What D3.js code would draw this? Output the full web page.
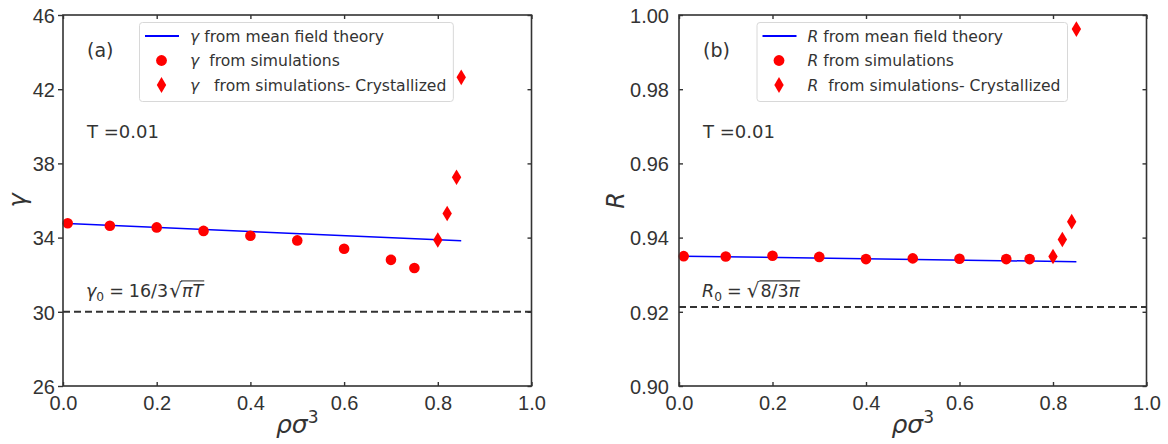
<!DOCTYPE html>
<html>
<head>
<meta charset="utf-8">
<script src="https://cdn.jsdelivr.net/npm/d3@7"></script>
<style>
  html, body { margin: 0; padding: 0; background: #fff; }
  svg { display: block; font-family: "DejaVu Sans", sans-serif; }
  .tick text { fill: #333; }
  text { white-space: pre; }
</style>
</head>
<body>
<svg id="chart" width="1168" height="444"></svg>
<script>
// density values (rho sigma^3)
const densitySim = [0.01, 0.1, 0.2, 0.3, 0.4, 0.5, 0.6, 0.7, 0.75];
const densityCryst = [0.8, 0.82, 0.84, 0.85];
const densityTheory = [0.01, 0.85];

// panel (a): gamma
const gammaSim = [34.77, 34.64, 34.55, 34.36, 34.1, 33.85, 33.4, 32.8, 32.36];
const gammaCryst = [33.87, 35.3, 37.25, 42.64];
const gammaTheory = [34.76, 33.83];
const gamma0 = 30.0;
const gammaTicks = [26, 30, 34, 38, 42, 46];

// panel (b): R
const rSim = [0.935, 0.9349, 0.9351, 0.9348, 0.9342, 0.9344, 0.9343, 0.9342, 0.9342];
const rCryst = [0.9349, 0.9395, 0.9443, 0.9962];
const rTheory = [0.935, 0.9335];
const r0 = 0.9213;
const rTicks = [0.90, 0.92, 0.94, 0.96, 0.98, 1.00];

const xTicks = [0, 0.2, 0.4, 0.6, 0.8, 1.0];

const INK = "#333";
const svg = d3.select("#chart");

function diamondPath(cx, cy, hw, hh) {
  return `M${cx},${cy - hh}L${cx + hw},${cy}L${cx},${cy + hh}L${cx - hw},${cy}Z`;
}

// sequential pieces of "math" text, each measured and placed after the previous;
// pieces flagged with `over` get one shared overline (the radical's bar)
function mathText(g, x, y, pieces, size) {
  let cx = x;
  let overStart = null;
  let overEnd = null;
  pieces.forEach((p) => {
    const fs = p.small ? size * 0.7 : p.big ? size * 1.15 : size;
    const t = g
      .append("text")
      .attr("x", cx)
      .attr("y", y + (p.dy || 0) * size)
      .attr("font-size", fs)
      .attr("font-style", p.italic ? "italic" : "normal")
      .attr("fill", INK)
      .text(p.s);
    const w = t.node().getComputedTextLength();
    if (p.over) {
      if (overStart === null) overStart = cx;
      overEnd = cx + w;
    }
    cx += w + (p.gap || 0);
  });
  if (overStart !== null) {
    g.append("line")
      .attr("x1", overStart - 1)
      .attr("x2", overEnd + 1)
      .attr("y1", y - size * 0.92)
      .attr("y2", y - size * 0.92)
      .attr("stroke", INK)
      .attr("stroke-width", 1.1);
  }
}

function drawPanel(opt) {
  const { left, right, top, bottom } = opt;
  const g = svg.append("g");

  const x = d3.scaleLinear().domain([0, 1]).range([left, right]);
  const y = d3.scaleLinear().domain(opt.yDomain).range([bottom, top]);

  // dashed reference line
  g.append("line")
    .attr("x1", x(0))
    .attr("x2", x(1))
    .attr("y1", y(opt.ref))
    .attr("y2", y(opt.ref))
    .attr("stroke", INK)
    .attr("stroke-width", 1.9)
    .attr("stroke-dasharray", "7 4");

  // theory line
  const theory = opt.theoryX.map((d, i) => [d, opt.theoryY[i]]);
  g.append("path")
    .datum(theory)
    .attr("fill", "none")
    .attr("stroke", "#0000ff")
    .attr("stroke-width", 1.5)
    .attr("d", d3.line().x((d) => x(d[0])).y((d) => y(d[1])));

  // simulation circles
  g.selectAll("circle.sim")
    .data(opt.simX.map((d, i) => [d, opt.simY[i]]))
    .join("circle")
    .attr("class", "sim")
    .attr("cx", (d) => x(d[0]))
    .attr("cy", (d) => y(d[1]))
    .attr("r", 5.3)
    .attr("fill", "#ff0000");

  // crystallized diamonds
  g.selectAll("path.cryst")
    .data(opt.crystX.map((d, i) => [d, opt.crystY[i]]))
    .join("path")
    .attr("class", "cryst")
    .attr("d", (d) => diamondPath(x(d[0]), y(d[1]), 4.7, 7.8))
    .attr("fill", "#ff0000");

  // axes: ticks on all four sides
  const styleAxis = (sel) => {
    sel.select(".domain").remove();
    sel.selectAll(".tick line").attr("stroke", INK).attr("stroke-width", 1.4);
    sel.selectAll(".tick text").attr("font-size", 20).attr("fill", INK);
  };

  g.append("g")
    .attr("transform", `translate(0,${bottom})`)
    .call(d3.axisBottom(x).tickValues(xTicks).tickFormat(d3.format(".1f")).tickSizeInner(-4).tickPadding(5))
    .call(styleAxis)
    .call((s) => s.selectAll(".tick text").attr("dy", "0.95em"));

  g.append("g")
    .attr("transform", `translate(0,${top})`)
    .call(d3.axisTop(x).tickValues(xTicks).tickSizeInner(-4).tickFormat(""))
    .call(styleAxis);

  g.append("g")
    .attr("transform", `translate(${left},0)`)
    .call(
      d3
        .axisLeft(y)
        .tickValues(opt.yTicks)
        .tickFormat(d3.format(opt.yFormat))
        .tickSizeInner(opt.leftOut ? 5 : -4)
        .tickPadding(opt.leftOut ? 3 : 10)
    )
    .call(styleAxis)
    .call((s) => s.selectAll(".tick text").attr("dy", "0.36em"));

  g.append("g")
    .attr("transform", `translate(${right},0)`)
    .call(d3.axisRight(y).tickValues(opt.yTicks).tickSizeInner(-4).tickFormat(""))
    .call(styleAxis);

  // frame
  g.append("rect")
    .attr("x", left)
    .attr("y", top)
    .attr("width", right - left)
    .attr("height", bottom - top)
    .attr("fill", "none")
    .attr("stroke", INK)
    .attr("stroke-width", 1.6);

  // axis labels
  const xl = g.append("text")
    .attr("x", (left + right) / 2)
    .attr("y", 433)
    .attr("text-anchor", "middle")
    .attr("font-size", 25)
    .attr("fill", INK);
  xl.append("tspan").attr("font-style", "italic").text("ρσ");
  xl.append("tspan").attr("font-size", 17).attr("dy", -10).text("3");

  g.append("text")
    .attr("transform", `translate(${opt.yLabelX},${(top + bottom) / 2}) rotate(-90)`)
    .attr("text-anchor", "middle")
    .attr("font-size", 24)
    .attr("font-style", "italic")
    .attr("fill", INK)
    .text(opt.yLabel);

  // panel letter and temperature
  g.append("text")
    .attr("x", left + 24)
    .attr("y", 57)
    .attr("font-size", 19)
    .attr("fill", INK)
    .text(opt.letter);
  g.append("text")
    .attr("x", left + 24)
    .attr("y", 137.5)
    .attr("font-size", 18)
    .attr("fill", INK)
    .text("T =0.01");

  // reference annotation
  mathText(g, left + 23, 297, opt.refPieces, 17.5);

  // legend
  const lg = g.append("g").attr("transform", `translate(${opt.legendX},22.5)`);
  const box = lg.append("rect")
    .attr("rx", 3)
    .attr("height", 79)
    .attr("fill", "#fff")
    .attr("fill-opacity", 0.8)
    .attr("stroke", "#d8d8d8")
    .attr("stroke-width", 1);
  const rows = [13.5, 38, 62.5];
  lg.append("line")
    .attr("x1", 5.5).attr("x2", 39.5)
    .attr("y1", rows[0]).attr("y2", rows[0])
    .attr("stroke", "#0000ff").attr("stroke-width", 1.8);
  lg.append("circle").attr("cx", 22).attr("cy", rows[1]).attr("r", 5.4).attr("fill", "#ff0000");
  lg.append("path").attr("d", diamondPath(22, rows[2], 4.7, 8)).attr("fill", "#ff0000");
  let maxW = 0;
  opt.legendItems.forEach((item, i) => {
    const t = lg.append("text")
      .attr("x", 50.5)
      .attr("y", rows[i])
      .attr("dy", "0.36em")
      .attr("font-size", 15.6)
      .attr("fill", INK);
    t.append("tspan").attr("font-style", "italic").text(opt.sym);
    t.append("tspan").text(item);
    maxW = Math.max(maxW, t.node().getComputedTextLength());
  });
  box.attr("width", 50.5 + maxW + 7);
}

drawPanel({
  left: 63, right: 531.5, top: 15, bottom: 386,
  yDomain: [26, 46], yTicks: gammaTicks, yFormat: "d", leftOut: true,
  theoryX: densityTheory, theoryY: gammaTheory,
  simX: densitySim, simY: gammaSim,
  crystX: densityCryst, crystY: gammaCryst,
  ref: gamma0,
  yLabel: "γ", yLabelX: 26,
  letter: "(a)",
  legendX: 139.5,
  sym: "γ",
  legendItems: [" from mean field theory", "  from simulations", "   from simulations- Crystallized"],
  refPieces: [
    { s: "γ", italic: true },
    { s: "0", small: true, dy: 0.22, gap: 5 },
    { s: "=", gap: 5 },
    { s: "16/3", gap: 1 },
    { s: "√", big: true },
    { s: "πT", italic: true, over: true },
  ],
});

drawPanel({
  left: 679, right: 1146.5, top: 15, bottom: 386,
  yDomain: [0.9, 1.0], yTicks: rTicks, yFormat: ".2f", leftOut: false,
  theoryX: densityTheory, theoryY: rTheory,
  simX: densitySim, simY: rSim,
  crystX: densityCryst, crystY: rCryst,
  ref: r0,
  yLabel: "R", yLabelX: 624,
  letter: "(b)",
  legendX: 757,
  sym: "R",
  legendItems: [" from mean field theory", " from simulations", "  from simulations- Crystallized"],
  refPieces: [
    { s: "R", italic: true },
    { s: "0", small: true, dy: 0.22, gap: 5 },
    { s: "=", gap: 5 },
    { s: "√", big: true, gap: 1 },
    { s: "8/3", over: true },
    { s: "π", italic: true, over: true },
  ],
});
</script>
</body>
</html>
